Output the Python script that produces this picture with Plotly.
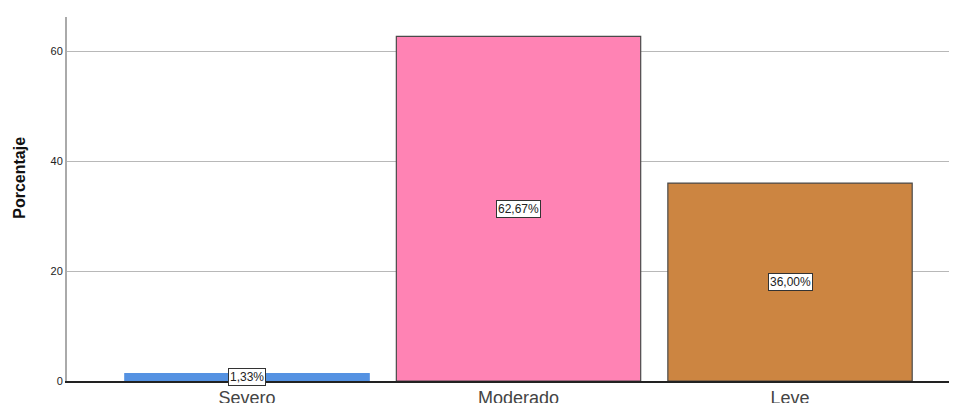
import plotly.graph_objects as go

categorias = ["Severo", "Moderado", "Leve"]
porcentajes = [1.33, 62.67, 36.00]
etiquetas = ["1,33%", "62,67%", "36,00%"]
colores = ["#5592E2", "#FF83B4", "#CC8541"]
bordes = ["#5592E2", "#4a4a4a", "#4a4a4a"]

fig = go.Figure(
    data=[
        go.Bar(
            x=categorias,
            y=porcentajes,
            marker_color=colores,
            marker_line_color=bordes,
            marker_line_width=1.2,
            width=0.9,
            hoverinfo="skip",
        )
    ]
)

for cat, val, txt in zip(categorias, porcentajes, etiquetas):
    fig.add_annotation(
        x=cat,
        y=val / 2,
        text=txt,
        showarrow=False,
        font=dict(family="Arial, Liberation Sans", size=12, color="#222222"),
        bgcolor="white",
        bordercolor="#333333",
        borderwidth=1,
        borderpad=1,
    )

# título del eje Y como anotación (SPSS lo coloca algo por encima del centro)
fig.add_annotation(
    xref="paper",
    yref="paper",
    x=-0.053,
    y=0.558,
    text="<b>Porcentaje</b>",
    textangle=-90,
    showarrow=False,
    xanchor="center",
    yanchor="middle",
    font=dict(family="Arial, Liberation Sans", size=16, color="#111111"),
)

# la página tiene un margen de 8px en el body, se compensa aquí
fig.update_layout(
    width=949,
    height=395,
    margin=dict(l=59, r=0, t=9, b=22),
    plot_bgcolor="white",
    paper_bgcolor="white",
    showlegend=False,
    font=dict(family="Arial, Liberation Sans"),
    xaxis=dict(
        range=[-0.663, 2.615],
        showgrid=False,
        showline=True,
        linecolor="#222222",
        linewidth=1.5,
        ticks="",
        tickfont=dict(size=18, color="#444444"),
        ticklabelstandoff=0,
        automargin=False,
    ),
    yaxis=dict(
        range=[0, 66.2],
        tickvals=[0, 20, 40, 60],
        showgrid=True,
        gridcolor="#b8b8b8",
        gridwidth=1,
        showline=True,
        linecolor="#aaaaaa",
        linewidth=2,
        zeroline=False,
        ticks="",
        tickfont=dict(size=11, color="#222222"),
        automargin=False,
    ),
)

fig.write_html("out.html")
